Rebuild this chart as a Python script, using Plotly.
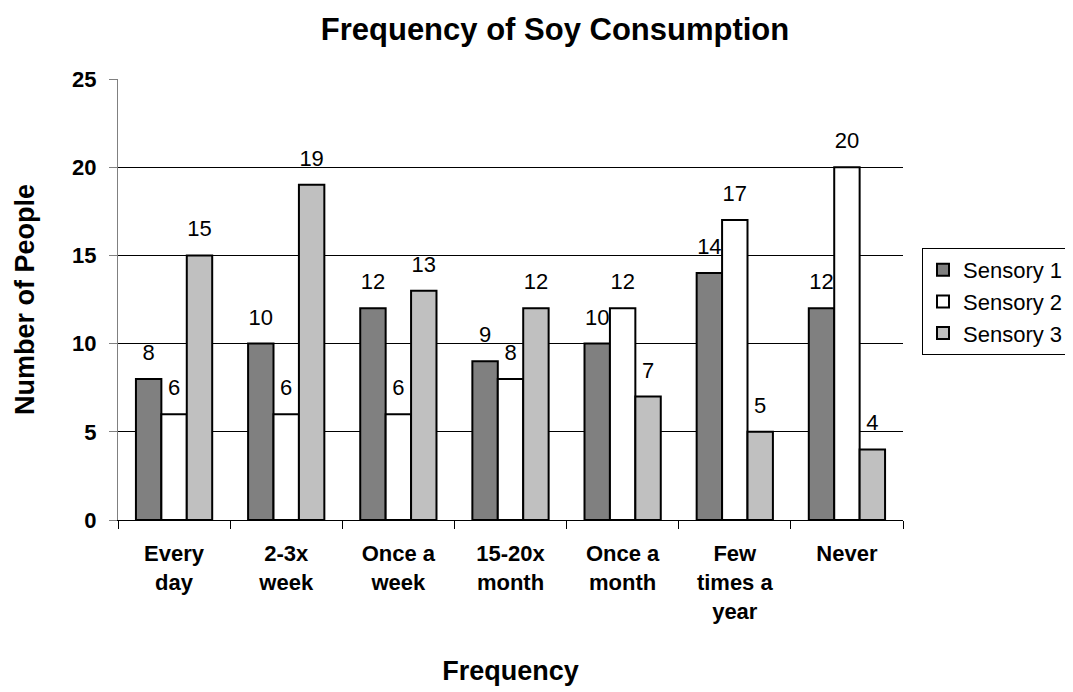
import plotly.graph_objects as go

categories = ["Every<br>day", "2-3x<br>week", "Once a<br>week", "15-20x<br>month",
              "Once a<br>month", "Few<br>times a<br>year", "Never"]
series_names = ["Sensory 1", "Sensory 2", "Sensory 3"]
sensory1 = [8, 10, 12, 9, 10, 14, 12]
sensory2 = [6, 6, 6, 8, 12, 17, 20]
sensory3 = [15, 19, 13, 12, 7, 5, 4]
y_ticks = [0, 5, 10, 15, 20, 25]

colors = ["#808080", "#FFFFFF", "#C0C0C0"]
FONT = "Liberation Sans, Arial, sans-serif"
BARGAP = 0.32
W, H = 1073, 692

fig = go.Figure()
for name, vals, col in zip(series_names, [sensory1, sensory2, sensory3], colors):
    fig.add_trace(go.Bar(
        x=categories, y=vals, name=name,
        marker=dict(color=col, line=dict(color="black", width=2)),
    ))
for name, vals in zip(series_names, [sensory1, sensory2, sensory3]):
    fig.add_trace(go.Scatter(
        x=categories, y=vals, mode="markers+text", text=[str(v) for v in vals],
        textposition="top center", showlegend=False, hoverinfo="skip",
        marker=dict(size=20, opacity=0),
        textfont=dict(family=FONT, size=22, color="black"),
        cliponaxis=False,
    ))

fig.update_layout(
    width=W, height=H,
    margin=dict(l=110, r=178, t=71, b=180, pad=0),
    paper_bgcolor="white", plot_bgcolor="white",
    barmode="group", bargap=BARGAP, bargroupgap=0,
    scattermode="group", scattergap=BARGAP,
    font=dict(family=FONT, color="black"),
    title=dict(text="Frequency of Soy Consumption", xref="container", x=547/W,
               xanchor="center", yref="container", y=1 - 21/H, yanchor="middle",
               font=dict(family=FONT, size=31, color="black", weight="bold")),
    legend=dict(xref="container", yref="container", x=914/W, y=1 - 240/H,
                xanchor="left", yanchor="top", bordercolor="black", borderwidth=1,
                bgcolor="white", font=dict(family=FONT, size=22, color="black")),
    showlegend=True,
)
fig.update_xaxes(
    type="category", tickson="boundaries", ticks="outside", ticklen=8,
    tickcolor="black", showline=True, linecolor="black", linewidth=1,
    ticklabelstandoff=14,
    tickfont=dict(family=FONT, size=22, color="black", weight="bold"),
    title=dict(text="Frequency", font=dict(family=FONT, size=27, color="black", weight="bold"),
               standoff=38),
)
fig.update_yaxes(
    range=[0, 25], tickvals=y_ticks, ticks="outside", ticklen=8, tickcolor="#808080",
    showline=True, linecolor="#808080", linewidth=1,
    showgrid=True, gridcolor="black", gridwidth=1, zeroline=False,
    ticklabelstandoff=8,
    tickfont=dict(family=FONT, size=22, color="black", weight="bold"),
    title=dict(text="Number of People", font=dict(family=FONT, size=27, color="black", weight="bold"),
               standoff=29),
)

fig.write_html("out.html")
